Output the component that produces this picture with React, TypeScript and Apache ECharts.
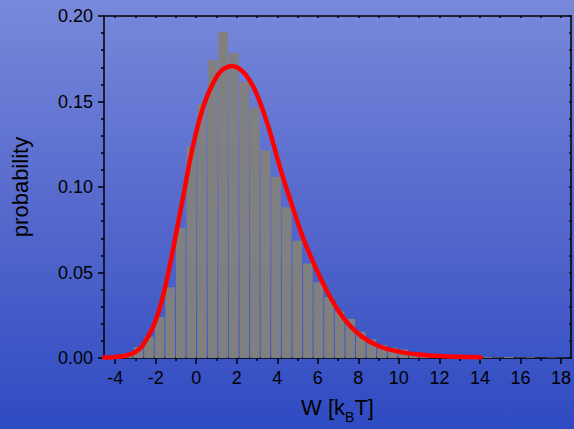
import React, { useEffect, useRef } from "react";
import * as echarts from "echarts";

// Histogram definition (bin left edge of first bin and bin width, in k_B T)
const binStart = -4.16;
const binWidth = 0.5226;
const probabilities = [
  0.0014, 0.0029, 0.0063, 0.0125, 0.0239, 0.0414, 0.076, 0.1237, 0.1487, 0.1742,
  0.1908, 0.1783, 0.1615, 0.1464, 0.1215, 0.106, 0.0881, 0.0685, 0.0552, 0.0442,
  0.0356, 0.0273, 0.0229, 0.0154, 0.0108, 0.0077, 0.006, 0.005, 0.0025, 0.0018,
  0.0012, 0.001, 0.0008, 0.0005, 0.0004, 0.0005, 0.0003, 0.0006, 0.0002, 0.0004,
  0.0001, 0.0003, 0.0001,
];

// Fitted curve
const fitX = [
  -4.55, -4.0, -3.5, -3.0, -2.7, -2.4, -2.1, -1.8, -1.5, -1.2, -0.94, -0.6, -0.3, 0.0,
  0.3, 0.68, 1.2, 1.74, 2.3, 2.8, 3.2, 3.62, 4.0, 4.3, 4.6, 5.25, 6.0, 6.55, 7.05,
  7.5, 8.18, 9.0, 9.98, 10.95, 12.0, 12.9, 14.03,
];
const fitY = [
  0.0003, 0.0006, 0.0013, 0.0035, 0.0065, 0.012, 0.019, 0.029, 0.043, 0.06, 0.076,
  0.097, 0.116, 0.132, 0.145, 0.157, 0.1675, 0.1708, 0.1675, 0.159, 0.148, 0.133,
  0.117, 0.105, 0.094, 0.071, 0.05, 0.037, 0.027, 0.02, 0.0125, 0.007, 0.0037, 0.002,
  0.0011, 0.0007, 0.0005,
];

// Axis ticks
const xMajorTicks = [-4, -2, 0, 2, 4, 6, 8, 10, 12, 14, 16, 18];
const xMinorTicks = [-3, -1, 1, 3, 5, 7, 9, 11, 13, 15, 17];
const xTopTicks = [-4, -3, -2, -1, 0, 1, 2, 3, 4, 5, 6, 7, 8, 9, 10, 11, 12, 13, 14, 15, 16, 17, 18];
const xMin = -4.55;
const xMax = 18.5;
const yMin = 0;
const yMax = 0.2;

export default function App() {
  const ref = useRef<HTMLDivElement>(null);

  useEffect(() => {
    if (!ref.current) return;
    const chart = echarts.init(ref.current, undefined, { renderer: "svg" });

    const histData = probabilities.map((p, k) => [
      binStart + k * binWidth,
      binStart + (k + 1) * binWidth,
      p,
    ]);
    const fitData = fitX.map((x, i) => [x, fitY[i]]);

    const font = "'Liberation Sans', Arial, sans-serif";
    const axisColor = "#000";

    chart.setOption({
      animation: false,
      backgroundColor: "transparent",
      grid: { left: 104, right: 1, top: 16, bottom: 66, containLabel: false },
      xAxis: [
        {
          type: "value",
          min: xMin,
          max: xMax,
          position: "bottom",
          axisLine: { show: true, onZero: false, lineStyle: { color: axisColor, width: 1.5 } },
          axisTick: { show: true, customValues: xMajorTicks, length: 6, lineStyle: { color: axisColor, width: 1.5 } },
          axisLabel: { show: true, customValues: xMajorTicks, fontSize: 18, color: "#000", fontFamily: font, margin: 11 },
          splitLine: { show: false },
          name: "{a|W [k}{b|B}{a|T]}",
          nameLocation: "middle",
          nameGap: 33,
          nameTextStyle: {
            rich: {
              a: { fontSize: 22, fontFamily: font, color: "#000", lineHeight: 26 },
              b: { fontSize: 14, fontFamily: font, color: "#000", padding: [19, 0, 0, 0] },
            },
          },
        },
        {
          type: "value",
          min: xMin,
          max: xMax,
          position: "bottom",
          axisLine: { show: false, onZero: false },
          axisTick: { show: true, customValues: xMinorTicks, length: 3, lineStyle: { color: axisColor, width: 1.5 } },
          axisLabel: { show: false },
          splitLine: { show: false },
        },
        {
          type: "value",
          min: xMin,
          max: xMax,
          position: "top",
          axisLine: { show: true, onZero: false, lineStyle: { color: axisColor, width: 1.5 } },
          axisTick: { show: true, inside: true, customValues: xTopTicks, length: 2, lineStyle: { color: axisColor, width: 1.5 } },
          axisLabel: { show: false },
          splitLine: { show: false },
        },
      ],
      yAxis: [
        {
          type: "value",
          min: yMin,
          max: yMax,
          interval: 0.05,
          position: "left",
          axisLine: { show: true, onZero: false, lineStyle: { color: axisColor, width: 1.5 } },
          axisTick: { show: true, length: 6, lineStyle: { color: axisColor, width: 1.5 } },
          minorTick: { show: true, splitNumber: 5, length: 3, lineStyle: { color: axisColor, width: 1.5 } },
          axisLabel: {
            fontSize: 18,
            color: "#000",
            fontFamily: font,
            margin: 11,
            formatter: (v: number) => v.toFixed(2),
          },
          splitLine: { show: false },
          minorSplitLine: { show: false },
          name: "probability",
          nameLocation: "middle",
          nameGap: 73,
          nameTextStyle: { fontSize: 22, fontFamily: font, color: "#000" },
        },
        {
          type: "value",
          min: yMin,
          max: yMax,
          interval: 0.01,
          position: "right",
          axisLine: { show: true, onZero: false, lineStyle: { color: axisColor, width: 1.5 } },
          axisTick: { show: true, inside: true, length: 2, lineStyle: { color: axisColor, width: 1.5 } },
          axisLabel: { show: false },
          splitLine: { show: false },
        },
      ],
      series: [
        {
          type: "custom",
          xAxisIndex: 0,
          yAxisIndex: 0,
          data: histData,
          encode: { x: [0, 1], y: 2 },
          renderItem: (params: any, api: any) => {
            const x0 = api.value(0);
            const x1 = api.value(1);
            const v = api.value(2);
            const p0 = api.coord([x0, v]);
            const p1 = api.coord([x1, 0]);
            return {
              type: "rect",
              shape: {
                x: p0[0] + 0.5,
                y: p0[1],
                width: Math.max(0, p1[0] - p0[0] - 1),
                height: p1[1] - p0[1],
              },
              style: { fill: "#808080" },
            };
          },
          z: 2,
        },
        {
          type: "line",
          xAxisIndex: 0,
          yAxisIndex: 0,
          data: fitData,
          smooth: 0.3,
          showSymbol: false,
          symbol: "none",
          lineStyle: { color: "#ff0000", width: 4.5, join: "round", cap: "round" },
          z: 5,
        },
      ],
    });

    return () => chart.dispose();
  }, []);

  return (
    <div
      style={{
        position: "absolute",
        left: 0,
        top: 0,
        width: 574,
        height: 429,
        background: "linear-gradient(to bottom, #7888da 0%, #5568cc 50%, #2f4bc2 100%)",
      }}
    >
      <div ref={ref} style={{ width: 574, height: 429 }} />
    </div>
  );
}
